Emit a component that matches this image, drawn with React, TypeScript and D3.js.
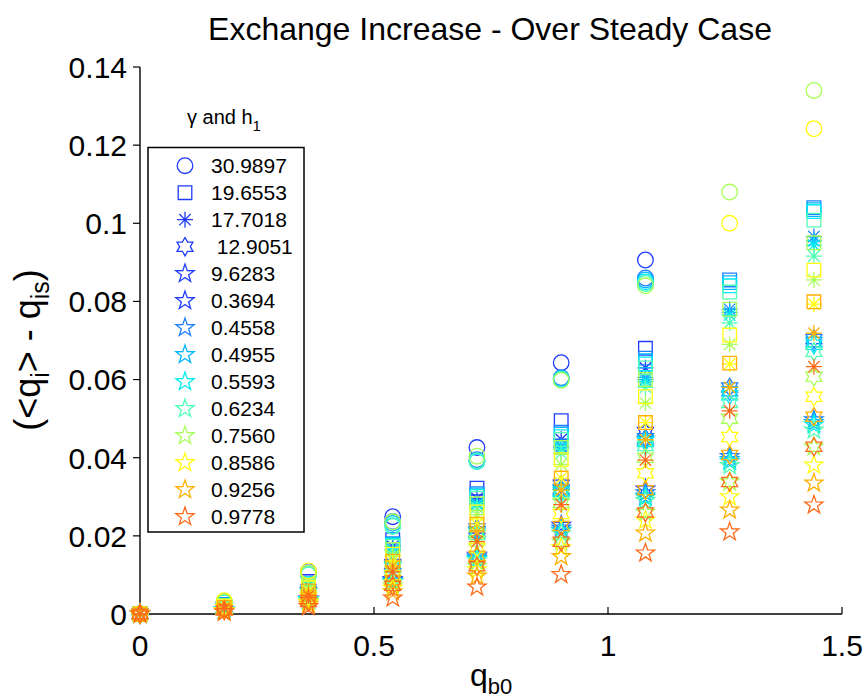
import React from 'react';
import * as d3 from 'd3';

// Bed velocity values where the exchange was evaluated
const qb0 = [0, 0.18, 0.36, 0.54, 0.72, 0.9, 1.08, 1.26, 1.44];

// Legend entries: gamma values (marker shape) and h1 values (colour)
const gammaLabels = ['30.9897', '19.6553', '17.7018', ' 12.9051', '9.6283'];
const gammaMarkers = ['circle', 'square', 'asterisk', 'hexagram', 'pentagram'];
const h1Labels = ['0.3694', '0.4558', '0.4955', '0.5593', '0.6234', '0.7560', '0.8586', '0.9256', '0.9778'];
const h1Colors = ['#1f3cff', '#1e80ff', '#00b4ff', '#00ecf0', '#50ffb4', '#a8ff58', '#ffff10', '#ffb000', '#ff6a1a'];

const yTicks = [0, 0.02, 0.04, 0.06, 0.08, 0.1, 0.12, 0.14];
const yTickLabels = ['0', '0.02', '0.04', '0.06', '0.08', '0.1', '0.12', '0.14'];
const xTicks = [0, 0.5, 1, 1.5];
const xTickLabels = ['0', '0.5', '1', '1.5'];

type Run = (number | null)[];

// <q_i> - q_is for each h1 (rows) against qb0 (columns), one table per gamma
const circleRuns: Run[] = [
  [0, 0.0032, 0.0109, 0.0249, 0.0426, 0.0643, 0.0906, null, null],
  [0, 0.0030, 0.0103, 0.0237, 0.0395, 0.0605, 0.0860, null, null],
  [0, 0.0030, 0.0102, 0.0232, 0.0392, 0.0603, 0.0855, null, null],
  [0, 0.0030, 0.0101, 0.0226, 0.0390, 0.0600, 0.0850, null, null],
  [0, 0.0030, 0.0101, 0.0224, 0.0392, 0.0600, 0.0846, null, null],
  [0, 0.0031, 0.0104, 0.0236, 0.0404, 0.0598, 0.0840, 0.1080, 0.1340],
  [0, 0.0034, 0.0110, null, null, null, null, 0.1000, 0.1242],
  [null, null, null, null, null, null, null, null, null],
  [null, null, null, null, null, null, null, null, null],
];

const squareRuns: Run[] = [
  [0, 0.0024, 0.0083, 0.0190, 0.0322, 0.0495, 0.0680, null, null],
  [0, 0.0023, 0.0079, 0.0180, 0.0308, 0.0465, 0.0655, 0.0855, 0.1040],
  [0, 0.0023, 0.0078, 0.0178, 0.0305, 0.0460, 0.0648, 0.0848, 0.1035],
  [0, 0.0022, 0.0077, 0.0176, 0.0301, 0.0454, 0.0640, 0.0840, 0.1030],
  [0, 0.0022, 0.0076, 0.0173, 0.0296, 0.0447, 0.0630, 0.0824, 0.1008],
  [0, 0.0021, 0.0072, 0.0165, 0.0282, 0.0426, 0.0600, 0.0780, 0.0950],
  [0, 0.0019, 0.0067, 0.0153, 0.0261, 0.0395, 0.0556, 0.0714, 0.0880],
  [0, 0.0017, 0.0059, 0.0135, 0.0230, 0.0348, 0.0490, 0.0642, 0.0799],
  [null, null, null, null, null, null, null, null, null],
];

const asteriskRuns: Run[] = [
  [0, 0.0022, 0.0076, 0.0173, 0.0296, 0.0447, 0.0630, null, null],
  [0, 0.0021, 0.0073, 0.0166, 0.0284, 0.0430, 0.0605, 0.0780, 0.0966],
  [0, 0.0021, 0.0072, 0.0165, 0.0282, 0.0426, 0.0600, 0.0772, 0.0955],
  [0, 0.0021, 0.0071, 0.0164, 0.0280, 0.0422, 0.0595, 0.0765, 0.0944],
  [0, 0.0020, 0.0070, 0.0160, 0.0273, 0.0412, 0.0580, 0.0745, 0.0916],
  [0, 0.0019, 0.0065, 0.0149, 0.0254, 0.0383, 0.0540, 0.0690, 0.0855],
  [0, 0.0017, 0.0059, 0.0135, 0.0230, 0.0348, 0.0490, 0.0640, 0.0793],
  [0, 0.0016, 0.0054, 0.0123, 0.0210, 0.0317, 0.0446, 0.0580, 0.0719],
  [0, 0.0014, 0.0047, 0.0108, 0.0185, 0.0280, 0.0394, 0.0520, 0.0633],
];

const hexagramRuns: Run[] = [
  [0, 0.0016, 0.0056, 0.0128, 0.0219, 0.0331, 0.0466, null, null],
  [0, 0.0016, 0.0054, 0.0124, 0.0212, 0.0320, 0.0450, 0.0580, 0.0704],
  [0, 0.0016, 0.0053, 0.0122, 0.0209, 0.0316, 0.0445, 0.0570, 0.0696],
  [0, 0.0015, 0.0053, 0.0121, 0.0207, 0.0312, 0.0440, 0.0560, 0.0689],
  [0, 0.0015, 0.0052, 0.0118, 0.0202, 0.0305, 0.0430, 0.0540, 0.0671],
  [0, 0.0014, 0.0048, 0.0110, 0.0188, 0.0284, 0.0400, 0.0500, 0.0607],
  [0, 0.0013, 0.0043, 0.0099, 0.0169, 0.0256, 0.0360, 0.0453, 0.0556],
  [0, 0.0011, 0.0038, 0.0087, 0.0149, 0.0225, 0.0317, 0.0407, 0.0505],
  [0, 0.0009, 0.0031, 0.0072, 0.0122, 0.0185, 0.0260, 0.0338, 0.0428],
];

const pentagramRuns: Run[] = [
  [0, 0.0011, 0.0038, 0.0088, 0.0150, 0.0227, 0.0320, null, null],
  [0, 0.0011, 0.0037, 0.0085, 0.0146, 0.0220, 0.0310, 0.0403, 0.0497],
  [0, 0.0011, 0.0036, 0.0083, 0.0142, 0.0214, 0.0302, 0.0395, 0.0490],
  [0, 0.0010, 0.0036, 0.0082, 0.0140, 0.0212, 0.0298, 0.0390, 0.0484],
  [0, 0.0010, 0.0035, 0.0080, 0.0136, 0.0206, 0.0290, 0.0380, 0.0471],
  [0, 0.0009, 0.0031, 0.0072, 0.0122, 0.0185, 0.0260, 0.0338, 0.0428],
  [0, 0.0008, 0.0029, 0.0066, 0.0113, 0.0170, 0.0240, 0.0300, 0.0381],
  [0, 0.0007, 0.0025, 0.0057, 0.0097, 0.0147, 0.0207, 0.0266, 0.0335],
  [0, 0.0005, 0.0019, 0.0041, 0.0069, 0.0101, 0.0156, 0.0210, 0.0279],
];

const runsByGamma = [circleRuns, squareRuns, asteriskRuns, hexagramRuns, pentagramRuns];

const FONT = '"Liberation Sans", Arial, Helvetica, sans-serif';

// Star outline centred on the origin, first point straight up
function starPath(points: number, rOuter: number, rInner: number): string {
  const p = d3.path();
  for (let i = 0; i < points * 2; i++) {
    const r = i % 2 === 0 ? rOuter : rInner;
    const a = -Math.PI / 2 + (i * Math.PI) / points;
    const px = r * Math.cos(a);
    const py = r * Math.sin(a);
    if (i === 0) p.moveTo(px, py);
    else p.lineTo(px, py);
  }
  p.closePath();
  return p.toString();
}

function asteriskPath(r: number): string {
  const p = d3.path();
  for (let i = 0; i < 4; i++) {
    const a = (i * Math.PI) / 4;
    p.moveTo(-r * Math.cos(a), -r * Math.sin(a));
    p.lineTo(r * Math.cos(a), r * Math.sin(a));
  }
  return p.toString();
}

const markerPaths: Record<string, string> = {
  square: 'M-6.8,-6.8H6.8V6.8H-6.8Z',
  asterisk: asteriskPath(8),
  hexagram: starPath(6, 9.2, 5.3),
  pentagram: starPath(5, 9.6, 3.8),
};

function Marker({ kind, x, y, color }: { kind: string; x: number; y: number; color: string }) {
  if (kind === 'circle') {
    return <circle cx={x} cy={y} r={7.8} fill="none" stroke={color} strokeWidth={1.3} />;
  }
  return (
    <path
      d={markerPaths[kind]}
      transform={`translate(${x},${y})`}
      fill="none"
      stroke={color}
      strokeWidth={1.3}
      strokeLinejoin="miter"
    />
  );
}

export default function App() {
  const width = 868;
  const height = 700;
  const x = d3.scaleLinear().domain([0, 1.5]).range([140, 842]);
  const y = d3.scaleLinear().domain([0, 0.14]).range([614, 67]);

  const marks: React.ReactNode[] = [];
  h1Colors.forEach((color, ci) => {
    runsByGamma.forEach((runs, gi) => {
      runs[ci].forEach((v, xi) => {
        if (v === null) return;
        marks.push(
          <Marker key={`${ci}-${gi}-${xi}`} kind={gammaMarkers[gi]} x={x(qb0[xi])} y={y(v)} color={color} />
        );
      });
    });
  });

  const legendEntries = [
    ...gammaLabels.map((label, i) => ({ label, kind: gammaMarkers[i], color: h1Colors[0] })),
    ...h1Labels.map((label, i) => ({ label, kind: 'pentagram', color: h1Colors[i] })),
  ];
  const legendTop = 165.7;
  const legendStep = 27;

  return (
    <svg
      width={width}
      height={height}
      style={{ position: 'absolute', left: 0, top: 0, background: '#fff' }}
      fontFamily={FONT}
    >
      <rect width={width} height={height} fill="#fff" />
      <text x={490} y={40} textAnchor="middle" fontSize={32} fill="#000">
        Exchange Increase - Over Steady Case
      </text>

      {/* axes */}
      <line x1={140} x2={140} y1={y(0.14)} y2={y(0)} stroke="#000" strokeWidth={1.4} />
      <line x1={140} x2={x(1.5)} y1={y(0)} y2={y(0)} stroke="#000" strokeWidth={1.4} />
      {yTicks.map((t, i) => (
        <g key={`yt${i}`}>
          <line x1={133} x2={140} y1={y(t)} y2={y(t)} stroke="#000" strokeWidth={1.2} />
          <text x={127} y={y(t)} dy="0.36em" textAnchor="end" fontSize={30} fill="#000">
            {yTickLabels[i]}
          </text>
        </g>
      ))}
      {xTicks.map((t, i) => (
        <g key={`xt${i}`}>
          <line x1={x(t)} x2={x(t)} y1={y(0)} y2={y(0) - 7} stroke="#000" strokeWidth={1.2} />
          <text x={x(t)} y={656} textAnchor="middle" fontSize={30} fill="#000">
            {xTickLabels[i]}
          </text>
        </g>
      ))}

      {/* axis titles */}
      <text x={470} y={686} fontSize={32} fill="#000">
        q<tspan fontSize={22} dy={8}>b0</tspan>
      </text>
      <text transform="translate(40,350) rotate(-90)" textAnchor="middle" fontSize={36} fill="#000">
        (&lt;q<tspan fontSize={25} dy={9}>i</tspan>
        <tspan dy={-9}>&gt; - q</tspan>
        <tspan fontSize={25} dy={9}>is</tspan>
        <tspan dy={-9}>)</tspan>
      </text>

      {marks}

      {/* legend */}
      <text x={187} y={124} fontSize={20} fill="#000">
        γ and h<tspan fontSize={15} dy={7}>1</tspan>
      </text>
      <rect x={148} y={147.5} width={156} height={384.5} fill="#fff" stroke="#000" strokeWidth={1.5} />
      {legendEntries.map((e, i) => (
        <g key={`lg${i}`}>
          <Marker kind={e.kind} x={185} y={legendTop + i * legendStep} color={e.color} />
          <text x={211} y={legendTop + i * legendStep} dy="0.36em" fontSize={21} fill="#000" style={{ whiteSpace: 'pre' }}>
            {e.label}
          </text>
        </g>
      ))}
    </svg>
  );
}
